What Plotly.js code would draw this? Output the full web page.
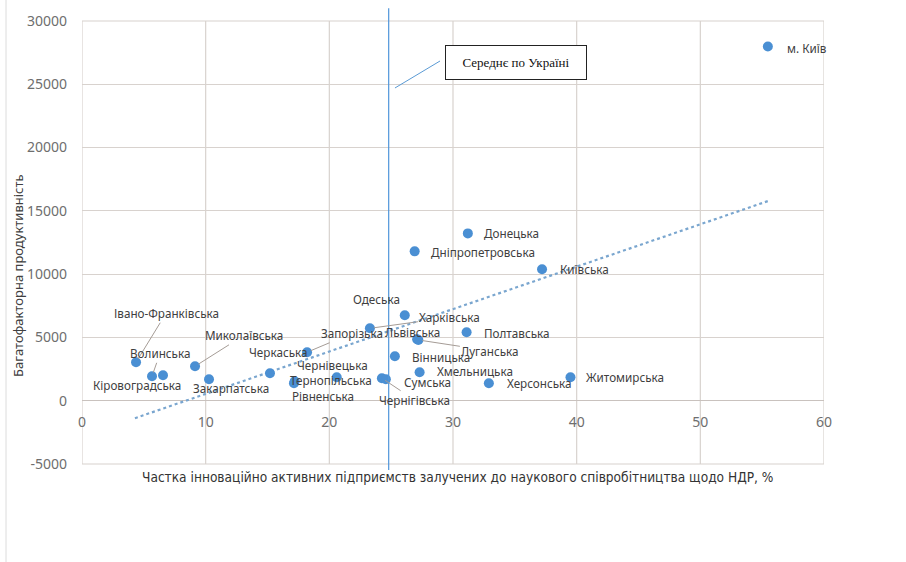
<!DOCTYPE html>
<html>
<head>
<meta charset="utf-8">
<script src="https://cdn.plot.ly/plotly-3.0.1.min.js"></script>
<style>html,body{margin:0;padding:0;background:#fff;}#chart{width:906px;height:562px;}</style>
</head>
<body>
<div id="chart"></div>
<script>
// ---- data ----
const regions = ["Івано-Франківська","Волинська","Кіровоградська","Миколаївська","Закарпатська","Черкаська","Запорізька","Рівненська","Тернопільська","Чернівецька","Чернігівська","Сумська","Харківська","Одеська","Львівська","Луганська","Вінницька","Хмельницька","Полтавська","Херсонська","Житомирська","Донецька","Дніпропетровська","Київська","м. Київ"];
const shareRD = [4.37,5.66,6.55,9.14,10.27,15.2,18.2,17.14,17.2,20.6,24.25,24.57,23.28,26.1,27.1,27.2,25.3,27.3,31.1,32.9,39.5,31.2,26.9,37.2,55.46];
const mfp = [3040,1930,2010,2720,1700,2170,3830,1380,1540,1850,1780,1700,5720,6750,4850,4800,3510,2250,5410,1380,1850,13220,11800,10380,27980];
const trendX = [4.28,55.46];
const trendY = [-1380,15770];
const ukraineAverage = 24.8;
const xTicks = [0,10,20,30,40,50,60];
const yTicks = [-5000,0,5000,10000,15000,20000,25000,30000];
const avgLabel = "Середнє по Україні";
const xTitle = "Частка інноваційно активних підприємств залучених до наукового співробітництва щодо НДР, %";
const yTitle = "Багатофакторна продуктивність";

// ---- label placement (pixel offsets from each point; style only) ----
const labelPos = {
 "Івано-Франківська":{ax:30,ay:-49,lead:true},
 "Волинська":{ax:8,ay:-23,lead:true},
 "Кіровоградська":{ax:-26,ay:10},
 "Миколаївська":{ax:49,ay:-31,lead:true},
 "Закарпатська":{ax:22,ay:9},
 "Черкаська":{ax:8,ay:-21},
 "Запорізька":{ax:45,ay:-19,lead:true},
 "Рівненська":{ax:29,ay:13},
 "Тернопільська":{ax:36,ay:-1},
 "Чернівецька":{ax:-4,ay:-12},
 "Чернігівська":{ax:33,ay:22,lead:true},
 "Сумська":{ax:16,ay:3,left:true},
 "Харківська":{ax:80,ay:-11,lead:true},
 "Одеська":{ax:-28,ay:-16},
 "Львівська":{ax:-5,ay:-7},
 "Луганська":{ax:72,ay:11,lead:true},
 "Вінницька":{ax:15,ay:1,left:true},
 "Хмельницька":{ax:15,ay:-1,left:true},
 "Полтавська":{ax:15,ay:1,left:true},
 "Херсонська":{ax:16,ay:0,left:true},
 "Житомирська":{ax:14,ay:0,left:true},
 "Донецька":{ax:14,ay:0,left:true},
 "Дніпропетровська":{ax:14,ay:1,left:true},
 "Київська":{ax:16,ay:0,left:true},
 "м. Київ":{ax:17,ay:1,left:true}
};

const gridCol = '#d8d2ce';
const labelFont = {family:'Noto Sans, DejaVu Sans, sans-serif', size:11.7, color:'#404040'};
const tickFont = {family:'Noto Sans, sans-serif', size:14, color:'#6e6e6e'};

const traces = [
 {x:trendX, y:trendY, type:'scatter', mode:'lines', line:{color:'#7aa6cf', width:2.2, dash:'dot'}, hoverinfo:'skip', showlegend:false},
 {x:shareRD, y:mfp, type:'scatter', mode:'markers', text:regions, marker:{color:'#4a8fd3', size:10}, showlegend:false}
];

const annotations = regions.map((name,i)=>{
  const p = labelPos[name];
  if (p.lead) {
    return {x:shareRD[i], y:mfp[i], xref:'x', yref:'y', text:name, showarrow:true, arrowhead:0, arrowwidth:1, arrowcolor:'#a59c96', ax:p.ax, ay:p.ay, standoff:4, font:labelFont};
  }
  return {x:shareRD[i], y:mfp[i], xref:'x', yref:'y', text:name, showarrow:false, xanchor:p.left?'left':'center', yanchor:'middle', xshift:p.ax, yshift:-p.ay, font:labelFont};
});

annotations.push({xref:'paper', yref:'paper', x:0.585, y:0.9074, xanchor:'center', yanchor:'middle', text:avgLabel, showarrow:false, bordercolor:'#222', borderwidth:1, bgcolor:'#fff', width:138, height:31, borderpad:1, font:{family:'Liberation Serif, Times New Roman, serif', size:13, color:'#111'}});
annotations.push({xref:'paper', yref:'paper', x:-0.0863, y:0.4266, xanchor:'center', yanchor:'middle', text:yTitle, textangle:-90, showarrow:false, font:{family:'Noto Sans, sans-serif', size:13, color:'#404040'}});
annotations.push({xref:'paper', yref:'paper', x:0.5054, y:-0.0293, xanchor:'center', yanchor:'middle', text:xTitle, showarrow:false, font:{family:'Liberation Sans Narrow, DejaVu Sans Condensed, sans-serif', size:13.6, color:'#333'}});

// vertical grid lines as shapes, one per x tick
const gridShapes = xTicks.map(v => ({type:'line', xref:'x', yref:'paper', x0:v, x1:v, y0:0, y1:1, line:{color:gridCol, width:1.2}, layer:'below'}));

const layout = {
  width:906, height:562,
  margin:{l:82, r:82, t:21, b:98},
  paper_bgcolor:'#fff', plot_bgcolor:'#fff',
  showlegend:false,
  xaxis:{range:[0,60], tickvals:xTicks, ticktext:xTicks.map(String), showgrid:false, zeroline:false, showline:false,
         anchor:'free', position:5000/35000, ticks:'', ticklabelstandoff:11, tickfont:tickFont},
  yaxis:{range:[-5000,30000], tickvals:yTicks, ticktext:yTicks.map(String), showgrid:true, gridcolor:gridCol, gridwidth:1.2, zeroline:true, zerolinecolor:'#c9c2be', zerolinewidth:1.3, showline:false,
         ticks:'', ticklabelstandoff:14, tickfont:tickFont},
  shapes:gridShapes.concat([
    {type:'line', xref:'paper', yref:'paper', x0:0, x1:1, y0:0, y1:0, line:{color:gridCol, width:1.2}, layer:'below'},
    {type:'line', xref:'paper', yref:'paper', x0:0, x1:1, y0:1, y1:1, line:{color:gridCol, width:1.2}, layer:'below'},
    {type:'line', xref:'x', yref:'paper', x0:ukraineAverage, x1:ukraineAverage, y0:-0.0135, y1:1.029, line:{color:'#4f95da', width:1.2}},
    {type:'line', xref:'paper', yref:'paper', x0:0.4825, y0:0.9097, x1:0.4218, y1:0.8488, line:{color:'#5b9bd5', width:1}},
    {type:'line', xref:'paper', yref:'paper', x0:-0.1024, x1:-0.1024, y0:1.05, y1:-0.23, line:{color:'#dcdcdc', width:1}}
  ]),
  annotations:annotations
};

Plotly.newPlot('chart', traces, layout, {displayModeBar:false, staticPlot:true});
</script>
</body>
</html>
